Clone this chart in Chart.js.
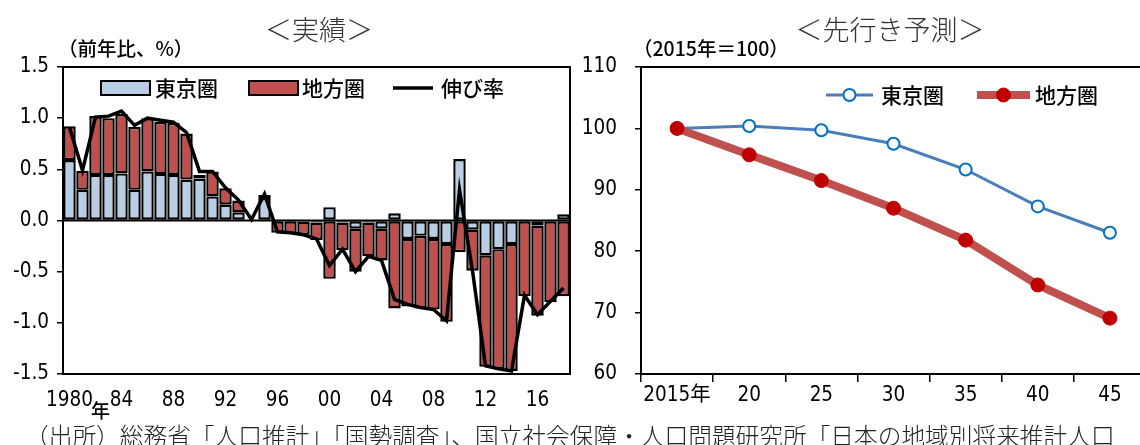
<!DOCTYPE html>
<html lang="ja">
<head>
<meta charset="utf-8">
<script src="https://cdn.jsdelivr.net/npm/chart.js@4.4.1/dist/chart.umd.min.js"></script>
<style>
  html, body { margin: 0; padding: 0; background: #fff; }
  body { width: 1140px; height: 445px; overflow: hidden; position: relative; }
  canvas { position: absolute; top: 0; }
  #left { left: 0; }
  #right { left: 580px; }
  .txt { position: absolute; white-space: nowrap; font-family: "Noto Sans CJK JP", sans-serif; color: #000; line-height: 1; }
  .title { font-size: 27px; font-weight: 300; color: #333; transform: translate(-50%, -50%); }
  .unit { font-size: 19.5px; font-weight: 500; transform: translateY(-50%); }
  .note { font-size: 23.7px; font-weight: 300; color: #222; transform: translateY(-50%); }
</style>
</head>
<body>
<canvas id="left" width="585" height="445"></canvas>
<canvas id="right" width="580" height="445"></canvas>

<div class="txt title" style="left:319px; top:28px;">＜実績＞</div>
<div class="txt title" style="left:890px; top:28px;">＜先行き予測＞</div>
<div class="txt unit" style="left:58px; top:48px;">（前年比、%）</div>
<div class="txt unit" style="left:633px; top:48px;">（2015年＝100）</div>
<div class="txt" style="left:91px; top:400px; font-size:19px; font-weight:500;">年</div>
<div class="txt note" style="left:25px; top:436px;">（出所）総務省「人口推計」「国勢調査」、国立社会保障・人口問題研究所「日本の地域別将来推計人口</div>

<script>
// ---- actual: year-on-year population growth and contributions (%) ----
const years = ['1980','1981','1982','1983','1984','1985','1986','1987','1988','1989',
               '1990','1991','1992','1993','1994','1995','1996','1997','1998','1999',
               '2000','2001','2002','2003','2004','2005','2006','2007','2008','2009',
               '2010','2011','2012','2013','2014','2015','2016','2017','2018'];
const yearTickLabels = ['1980','84','88','92','96','00','04','08','12','16'];

const tokyoContribution = [0.59, 0.30, 0.445, 0.445, 0.46, 0.30, 0.48, 0.455, 0.445, 0.40,
                           0.41, 0.235, 0.155, 0.08, 0.01, 0.22, 0.01, 0.01, -0.01, -0.02,
                           0.13, -0.02, -0.08, -0.02, -0.08, 0.07, -0.18, -0.15, -0.18, -0.23,
                           0.60, -0.09, -0.34, -0.28, -0.23, 0.01, -0.05, 0.01, 0.06];
const localContribution = [0.33, 0.185, 0.575, 0.555, 0.58, 0.615, 0.52, 0.51, 0.51, 0.45,
                           0.035, 0.245, 0.16, 0.115, 0.0, 0.03, -0.12, -0.13, -0.13, -0.17,
                           -0.57, -0.27, -0.42, -0.33, -0.31, -0.86, -0.66, -0.71, -0.69, -0.76,
                           -0.31, -0.40, -1.09, -1.17, -1.24, -0.74, -0.88, -0.80, -0.74];
const growthRate = [0.91, 0.49, 1.01, 1.02, 1.07, 0.93, 1.00, 0.98, 0.96, 0.86,
                    0.48, 0.48, 0.32, 0.20, 0.01, 0.26, -0.11, -0.12, -0.14, -0.18,
                    -0.44, -0.28, -0.50, -0.35, -0.39, -0.77, -0.82, -0.85, -0.87, -0.98,
                    0.30, -0.49, -1.42, -1.45, -1.47, -0.73, -0.92, -0.79, -0.66];

// ---- projection: population index (2015 = 100) ----
const projectionYears = ['2015年','20','25','30','35','40','45'];
const tokyoIndex = [100, 100.4, 99.7, 97.5, 93.3, 87.3, 83.0];
const localIndex = [100, 95.7, 91.5, 87.0, 81.8, 74.5, 69.1];

const COLORS = { tokyoBar: '#b9cde5', localBar: '#c0504d', tokyoLine: '#4a7ebb',
                 tokyoMarker: '#0070c0', localLine: '#c0504d', localMarker: '#c00000' };

const tickFont = { family: "'Liberation Sans Narrow', 'DejaVu Sans Condensed', 'Noto Sans CJK JP', sans-serif", size: 20.5 };
const legendFont = "500 21px 'Noto Sans CJK JP', sans-serif";

// plot frame, plus the zero line when asked for
const framePlugin = {
  id: 'frame',
  beforeDatasetsDraw(chart, args, opts) {
    const { ctx, chartArea: a } = chart;
    ctx.save();
    ctx.strokeStyle = '#000';
    ctx.lineWidth = 2;
    ctx.strokeRect(a.left, a.top, a.right - a.left, a.bottom - a.top);
    if (opts.zeroLine) {
      const y0 = chart.scales.y.getPixelForValue(0);
      ctx.beginPath();
      ctx.moveTo(a.left, y0);
      ctx.lineTo(a.right, y0);
      ctx.stroke();
    }
    ctx.restore();
  }
};

// legend drawn inside the plot area, styled from each dataset
const innerLegendPlugin = {
  id: 'innerLegend',
  afterDraw(chart, args, opts) {
    const { ctx } = chart;
    ctx.save();
    ctx.font = legendFont;
    ctx.textBaseline = 'middle';
    ctx.fillStyle = '#000';
    opts.items.forEach(item => {
      const ds = chart.data.datasets[item.dataset];
      const y = opts.y;
      if (item.kind === 'box') {
        ctx.fillStyle = ds.backgroundColor;
        ctx.fillRect(item.x, y - 7, item.w, 14);
        ctx.strokeStyle = '#000';
        ctx.lineWidth = 2;
        ctx.strokeRect(item.x, y - 7, item.w, 14);
      } else {
        ctx.strokeStyle = ds.borderColor;
        ctx.lineWidth = ds.borderWidth;
        ctx.lineCap = 'butt';
        ctx.beginPath();
        ctx.moveTo(item.x, y);
        ctx.lineTo(item.x + item.w, y);
        ctx.stroke();
        if (ds.pointRadius) {
          ctx.beginPath();
          ctx.arc(item.x + item.w / 2, y, ds.pointRadius, 0, Math.PI * 2);
          ctx.fillStyle = ds.pointBackgroundColor;
          ctx.fill();
          ctx.lineWidth = ds.pointBorderWidth;
          ctx.strokeStyle = ds.pointBorderColor;
          ctx.stroke();
        }
      }
      ctx.fillStyle = '#000';
      ctx.fillText(ds.label, item.x + item.w + item.gap, y);
    });
    ctx.restore();
  }
};

Chart.register(framePlugin, innerLegendPlugin);

new Chart(document.getElementById('left'), {
  type: 'bar',
  data: {
    labels: years,
    datasets: [
      { type: 'line', label: '伸び率', data: growthRate, borderColor: '#000', borderWidth: 3.5,
        pointRadius: 0, tension: 0, stack: 'rate', order: 0 },
      { label: '東京圏', data: tokyoContribution, backgroundColor: COLORS.tokyoBar, borderColor: '#000',
        borderWidth: 2.4, borderSkipped: false, stack: 'area', order: 1 },
      { label: '地方圏', data: localContribution, backgroundColor: COLORS.localBar, borderColor: '#000',
        borderWidth: 2.4, borderSkipped: false, stack: 'area', order: 1 }
    ]
  },
  options: {
    responsive: false,
    animation: false,
    datasets: { bar: { barPercentage: 1, categoryPercentage: 0.96 } },
    layout: { padding: { top: 67, right: 15, left: 0, bottom: 0 } },
    plugins: {
      legend: { display: false },
      tooltip: { enabled: false },
      frame: { zeroLine: true },
      innerLegend: {
        y: 88,
        items: [
          { dataset: 1, kind: 'box', x: 101, w: 49, gap: 5 },
          { dataset: 2, kind: 'box', x: 249, w: 49, gap: 4 },
          { dataset: 0, kind: 'line', x: 393, w: 40, gap: 8 }
        ]
      }
    },
    scales: {
      x: {
        stacked: true,
        grid: { display: false },
        border: { display: false },
        ticks: {
          autoSkip: false, maxRotation: 0, minRotation: 0, padding: 6,
          font: tickFont, color: '#000',
          callback: (v, i) => (i % 4 === 0 ? yearTickLabels[i / 4] : '')
        },
        afterFit: s => { s.height = 71; }
      },
      y: {
        stacked: true,
        min: -1.5, max: 1.5,
        border: { display: false },
        grid: { drawOnChartArea: false, tickLength: 6, color: '#000', lineWidth: 1.5 },
        ticks: { stepSize: 0.5, padding: 8, font: tickFont, color: '#000', callback: v => v.toFixed(1) },
        afterFit: s => { s.width = 63; }
      }
    }
  }
});

new Chart(document.getElementById('right'), {
  type: 'line',
  data: {
    labels: projectionYears,
    datasets: [
      { label: '地方圏', data: localIndex, borderColor: COLORS.localLine, borderWidth: 8, tension: 0,
        pointRadius: 7, pointBackgroundColor: COLORS.localMarker, pointBorderColor: COLORS.localMarker,
        pointBorderWidth: 1, order: 0 },
      { label: '東京圏', data: tokyoIndex, borderColor: COLORS.tokyoLine, borderWidth: 3, tension: 0,
        pointRadius: 6, pointBackgroundColor: '#fff', pointBorderColor: COLORS.tokyoMarker,
        pointBorderWidth: 2, order: 1 }
    ]
  },
  options: {
    responsive: false,
    animation: false,
    layout: { padding: { top: 67, right: 14, left: 0, bottom: 0 } },
    plugins: {
      legend: { display: false },
      tooltip: { enabled: false },
      frame: { zeroLine: false },
      innerLegend: {
        y: 95,
        items: [
          { dataset: 1, kind: 'line', x: 246, w: 47, gap: 8 },
          { dataset: 0, kind: 'line', x: 397, w: 53, gap: 5 }
        ]
      }
    },
    scales: {
      x: {
        offset: true,
        border: { display: false },
        grid: { offset: true, drawOnChartArea: false, tickLength: 8, color: '#000', lineWidth: 1.5 },
        ticks: { padding: 1, font: tickFont, color: '#000', maxRotation: 0 },
        afterFit: s => { s.height = 71; }
      },
      y: {
        min: 60, max: 110,
        border: { display: false },
        grid: { drawOnChartArea: false, tickLength: 6, color: '#000', lineWidth: 1.5 },
        ticks: { stepSize: 10, padding: 18, font: tickFont, color: '#000' },
        afterFit: s => { s.width = 61; }
      }
    }
  }
});
</script>
</body>
</html>
